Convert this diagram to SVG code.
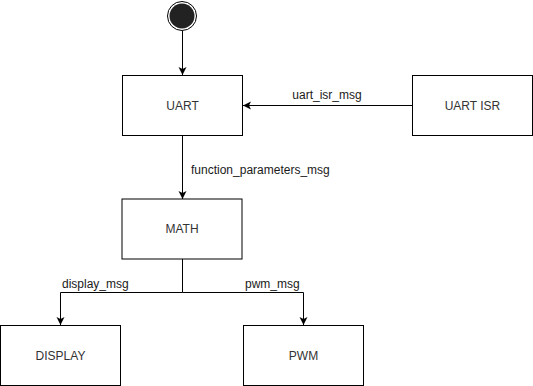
<svg xmlns="http://www.w3.org/2000/svg" width="533" height="386" viewBox="0 0 533 386">
  <defs>
    <marker id="arrow" markerUnits="userSpaceOnUse" markerWidth="10" markerHeight="10" viewBox="-8 -5 10 10" refX="0" refY="0" orient="auto">
      <path d="M0,0 L-8,-4 L-6,0 L-8,4 Z" fill="#000"/>
    </marker>
  </defs>
  <style>
    .box { fill: #fff; stroke: #000; stroke-width: 1; }
    .label { font-family: "Liberation Sans", Arial, sans-serif; font-size: 12px; fill: #333; text-anchor: middle; }
    .edge { fill: none; stroke: #000; stroke-width: 1; }
    .edge-label { font-family: "Liberation Sans", Arial, sans-serif; font-size: 12px; fill: #1a1a1a; }
  </style>
  <rect width="533" height="386" fill="#fff"/>

  <!-- initial state -->
  <g id="start">
    <circle cx="182" cy="16" r="14.5" fill="#fff" stroke="#000" stroke-width="1"/>
    <circle cx="182" cy="16" r="12.5" fill="#222"/>
  </g>

  <g id="uart">
    <rect class="box" x="122.5" y="75.5" width="120" height="60"/>
    <text class="label" x="182.5" y="109.5">UART</text>
  </g>

  <g id="uart-isr">
    <rect class="box" x="412.5" y="75.5" width="120" height="60"/>
    <text class="label" x="472.5" y="109.5">UART ISR</text>
  </g>

  <g id="math">
    <rect class="box" x="122" y="199" width="120" height="60"/>
    <text class="label" x="182" y="233">MATH</text>
  </g>

  <g id="display">
    <rect class="box" x="0.5" y="325.5" width="120" height="60"/>
    <text class="label" x="60.5" y="359.5">DISPLAY</text>
  </g>

  <g id="pwm">
    <rect class="box" x="243.5" y="325.5" width="120" height="60"/>
    <text class="label" x="303.5" y="359.5">PWM</text>
  </g>

  <g id="connectors">
    <path class="edge" d="M182.5,31 L182.5,75" marker-end="url(#arrow)"/>
    <path class="edge" d="M412,105.5 L243,105.5" marker-end="url(#arrow)"/>
    <path class="edge" d="M182.5,136 L182.5,199" marker-end="url(#arrow)"/>
    <path class="edge" d="M182.5,259 L182.5,292.5 L60.5,292.5 L60.5,325" marker-end="url(#arrow)"/>
    <path class="edge" d="M182.5,292.5 L303.5,292.5 L303.5,325" marker-end="url(#arrow)"/>
    <text class="edge-label" x="327" y="99" text-anchor="middle">uart_isr_msg</text>
    <text class="edge-label" x="191" y="174">function_parameters_msg</text>
    <text class="edge-label" x="62" y="288">display_msg</text>
    <text class="edge-label" x="245" y="288">pwm_msg</text>
  </g>
</svg>
